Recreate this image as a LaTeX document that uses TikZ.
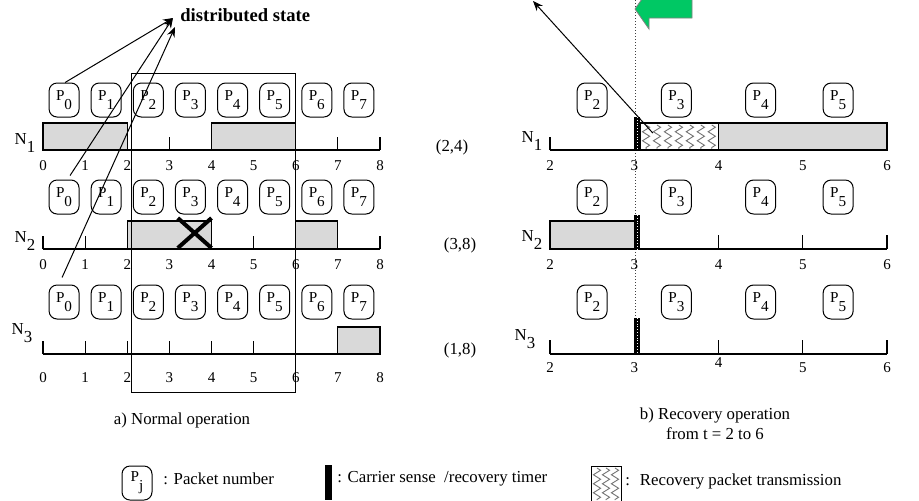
\documentclass[tikz,border=0pt]{standalone}
\usepackage{fontspec}
\setmainfont{Liberation Serif}
\usetikzlibrary{arrows.meta,positioning,calc,decorations.pathmorphing}
\definecolor{busygray}{HTML}{D9D9D9}
\definecolor{flaggreen}{HTML}{00C864}
\newcommand{\pktlabel}[1]{P\raisebox{-0.6em}{#1}}
\newcommand{\stnlabel}[1]{N\raisebox{-0.5em}{#1}}
\tikzset{pkt/.style={draw,line width=0.5pt,rounded corners=4pt,minimum width=15pt,minimum height=17pt,inner sep=0pt,font=\fontsize{7.6}{8}\selectfont},busy/.style={draw,fill=busygray,line width=0.6pt},axisline/.style={line width=0.8pt},tk/.style={line width=0.6pt},num/.style={font=\fontsize{7.5}{8}\selectfont,inner sep=0pt},lbl/.style={font=\fontsize{8.4}{10}\selectfont,inner sep=0pt},ptr/.style={-{Stealth[length=5pt,width=4pt]},line width=0.5pt},zz/.style={draw=black!55,line width=0.45pt,decorate,decoration={zigzag,segment length=4.5pt,amplitude=1.8pt}}}

\begin{document}
\begin{tikzpicture}[x=0.5pt,y=-0.5pt]
\clip (0,0) rectangle (919,500);
% a) normal operation, t = 0..8
\begin{scope}[shift={(43,0)},x=21.0625pt]
\foreach \row/\ya/\yp/\yn in {1/150/100/166,2/249/197/265,3/354/302/378}{
  \foreach \j in {0,...,7}
    \node[pkt] (pa\row\j) at (\j+0.5,\yp) {\pktlabel{\j}};
  \foreach \t in {0,...,8}
    \node[num] (na\row\t) at (\t,\yn) {\t};
}
\draw[busy] (0,123) rectangle (2,150);
\draw[busy] (4,123) rectangle (6,150);
\draw[busy] (2,221) rectangle (4,249);
\draw[busy] (6,221) rectangle (7,249);
\draw[busy] (7,327) rectangle (8,354);
\draw[axisline] (0,150) -- (8,150);
\draw[axisline] (0,249) -- (8,249);
\draw[axisline] (0,354) -- (8,354);
\foreach \t in {3,7,8} \draw[tk] (\t,150) -- (\t,137);
\foreach \t in {0,1,5,8} \draw[tk] (\t,249) -- (\t,236);
\foreach \t in {0,...,6} \draw[tk] (\t,354) -- (\t,341);
\draw[line width=0.5pt] (2.09,73) rectangle (6,392);
\draw[line width=2pt] (3.2,218) -- (4,248) (4,218) -- (3.2,248);
\end{scope}
% b) recovery operation, t = 2..6
\begin{scope}[shift={(381.5,0)},x=42.125pt]
\foreach \row/\ya/\yp/\yn in {1/150/100/166,2/249/197/265,3/354/302/368}{
  \foreach \j/\c in {2/2.5,3/3.5,4/4.5,5/5.42}
    \node[pkt] (pb\row\j) at (\c,\yp) {\pktlabel{\j}};
}
\foreach \row/\yn in {1/166,2/265}
  \foreach \t in {2,...,6}
    \node[num] (nb\row\t) at (\t,\yn) {\t};
\foreach \t/\yn in {2/368,3/368,4/363,5/368,6/368}
  \node[num] (nb3\t) at (\t,\yn) {\t};
\draw[densely dotted,line width=0.5pt,black!75] (3.02,0) -- (3.02,354);
\draw[busy] (4,123) rectangle (6,150);
\draw[line width=0.6pt,fill=white] (3.07,123) rectangle (4,150);
\foreach \z in {3.14,3.27,...,3.95}
  \draw[zz] (\z,125) -- (\z,149);
\draw[busy] (2,221) rectangle (3,249);
\draw[axisline] (2,150) -- (6,150);
\draw[axisline] (2,249) -- (6,249);
\draw[axisline] (2,354) -- (6,354);
\foreach \t in {2} \draw[tk] (\t,150) -- (\t,137);
\foreach \t in {4,5,6} \draw[tk] (\t,249) -- (\t,235);
\foreach \t in {2,4,5,6} \draw[tk] (\t,354) -- (\t,340);
\foreach \ytop/\ybot in {117/150,215/249,318/354}{
  \fill (3,\ytop) rectangle (3.07,\ybot);
  \draw[white,densely dotted,line width=0.4pt] (3.035,\ytop) -- (3.035,\ybot);
}
\coordinate (recsrc) at (3.22,133);
\end{scope}
% station and slot labels
\node[lbl] (sa1) at (25,143) {\stnlabel{1}};
\node[lbl] (sa2) at (25,241) {\stnlabel{2}};
\node[lbl] (sa3) at (22,333) {\stnlabel{3}};
\node[lbl] (sb1) at (532,141) {\stnlabel{1}};
\node[lbl] (sb2) at (532,240) {\stnlabel{2}};
\node[lbl] (sb3) at (525,339) {\stnlabel{3}};
\node[lbl] (st1) at (452,147) {(2,4)};
\node[lbl] (st2) at (460,245) {(3,8)};
\node[lbl] (st3) at (460,350) {(1,8)};
% pointers
\node[lbl,font=\fontsize{9.3}{11}\selectfont\bfseries,anchor=west] (dstate) at (180,15) {distributed state};
\draw[ptr] ($(pa10.north)+(1,0)$) -- ($(dstate.west)+(-7,3)$);
\draw[ptr] ($(pa20.north)+(6,-4)$) -- ($(dstate.west)+(-7,3)$);
\draw[ptr] ($(pa30.north)+(-2,-7)$) -- ($(dstate.west)+(-5,12)$);
\coordinate (rectip) at (533,1);
\draw[ptr] (recsrc) -- (rectip);
\filldraw[fill=flaggreen,draw=black!50,line width=0.4pt] (635,9) -- (649,29) -- (649,18) -- (692,18) -- (692,-11) -- (649,-11) -- cycle;
% captions
\node[lbl] (capa) at (182,420) {a) Normal operation};
\node[lbl,align=center] (capb) at (715,424) {b) Recovery operation\\from t = 2 to 6};
% legend
\node[pkt] (legpkt) at (137,483) {\pktlabel{j}};
\node[lbl,anchor=west] (legpkttxt) at (163,479) {: Packet number};
\fill (325,465) rectangle (332,500);
\node[lbl,anchor=west] (legbartxt) at (337,479) {: Carrier sense \ /recovery timer};
\draw[line width=0.5pt] (591,466) rectangle (621,502);
\foreach \z in {597,606,615}
  \draw[zz] (\z,468) -- (\z,500);
\node[lbl,anchor=west] (legrectxt) at (625,481) {: \ Recovery packet transmission};
\end{tikzpicture}
\end{document}
